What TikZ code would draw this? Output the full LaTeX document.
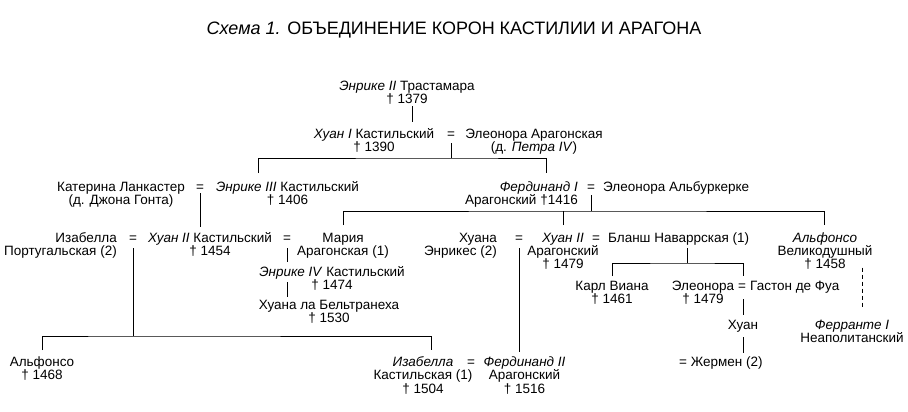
\documentclass[tikz,border=0pt]{standalone}
\usepackage{fontspec}
\setmainfont{Liberation Sans}
\usetikzlibrary{calc}
\newcommand\persfont{\fontsize{13.5}{13.3}\selectfont}
\newcommand\titlefont{\fontsize{18}{19}\selectfont}

\begin{document}
\begin{tikzpicture}[x=1pt, y=-1pt,
    person/.style={align=center, inner sep=0pt, anchor=base, font=\persfont},
    marry/.style={inner sep=0pt, anchor=base, font=\persfont},
    link/.style={line width=1pt}
]
\useasboundingbox (0,0) rectangle (908,412);

% Title
\node[anchor=base, inner sep=0pt, font=\titlefont] (title) at (454,35) {\textit{Схема 1.} ОБЪЕДИНЕНИЕ КОРОН КАСТИЛИИ И АРАГОНА};

% Trastamara, Castile (base = last line)
\node[person] (enr2) at (407,103.3) {\textit{Энрике II} Трастамара\\† 1379};
\node[person] (juan1) at (374,151.3) {\textit{Хуан I} Кастильский\\† 1390};
\node[marry] (eq1) at (451,138) {=};
\node[person] (eleo1) at (534,151.3) {Элеонора Арагонская\\(д. \textit{Петра IV})};
\node[person] (kat) at (121,204.3) {Катерина Ланкастер\\(д. Джона Гонта)};
\node[marry] (eq2) at (200,191) {=};
\node[person] (enr3) at (287.5,204.3) {\textit{Энрике III} Кастильский\\† 1406};
\node[person, align=right, anchor=base east] (isa1) at (117,255.3) {Изабелла\\Португальская (2)};
\node[marry] (eq4) at (133,242) {=};
\node[person] (juan2c) at (210,255.3) {\textit{Хуан II} Кастильский\\† 1454};
\node[marry] (eq5) at (287,242) {=};
\node[person] (maria) at (343,255.3) {Мария\\Арагонская (1)};
\node[person] (enr4) at (332,289.3) {\textit{Энрике IV} Кастильский\\† 1474};
\node[person] (juana) at (329,322.3) {Хуана ла Бельтранеха\\† 1530};
\node[person] (alf2) at (42,379.8) {Альфонсо\\† 1468};
\node[person] (isa2) at (423,393.1) {\textit{Изабелла}\\Кастильская (1)\\† 1504};

% Aragon
\node[person, align=right, anchor=base east] (fer1) at (578,204.3) {\textit{Фердинанд I}\\Арагонский †1416};
\node[marry] (eq3) at (591,191) {=};
\node[person, anchor=base west] (eleo2) at (603,191) {Элеонора Альбуркерке};
\node[person, align=right, anchor=base east] (juanaE) at (497,255.3) {Хуана\\Энрикес (2)};
\node[marry] (eq6) at (519,242) {=};
\node[person] (juan2a) at (563,268.6) {\textit{Хуан II}\\Арагонский\\† 1479};
\node[marry] (eq7) at (596,242) {=};
\node[person, anchor=base west] (blanche) at (608,242) {Бланш Наваррская (1)};
\node[person] (alf1) at (825,268.6) {\textit{Альфонсо}\\Великодушный\\† 1458};
\node[person] (karl) at (612,303.8) {Карл Виана\\† 1461};
\node[person] (eleo3) at (703,303.8) {Элеонора\\† 1479};
\node[marry] (eq8) at (742,290.5) {=};
\node[person, anchor=base west] (gaston) at (750,290.5) {Гастон де Фуа};
\node[person] (juanF) at (743,329) {Хуан};
\node[person, anchor=base west] (germ) at (679,366.5) {= Жермен (2)};
\node[person] (ferr) at (852,342.3) {\textit{Ферранте I}\\Неаполитанский};
\node[marry] (eq9) at (471,366.5) {=};
\node[person] (fer2) at (524.5,393.1) {\textit{Фердинанд II}\\Арагонский\\† 1516};

% junctions
\coordinate (kA) at (412,122);
\coordinate (busB) at (451,158);
\coordinate (dEnr3) at (258,173);
\coordinate (dFer1) at (546,173);
\coordinate (kC) at (200,227);
\coordinate (busC) at (591,211);
\coordinate (dMaria) at (343,225);
\coordinate (dJuan2a) at (563,225);
\coordinate (dAlf1) at (824,225);
\coordinate (busD) at (133,336);
\coordinate (dAlf2) at (42,350);
\coordinate (dIsa2) at (431,350);
\coordinate (busE) at (687,263);
\coordinate (dKarl) at (612,276);
\coordinate (dEleo3) at (743,276);

% connectors
\draw[link] (enr2.south -| kA) ++(0,2) -- (kA);
\draw[link] ($(eq1.south)+(0,5)$) -- (busB);
\draw[link] (dEnr3) |- (busB) -| (dFer1);
\draw[link] ($(eq2.south)+(0,2)$) -- (kC);
\draw[link] ($(eq3.south)+(0,4)$) -- (busC);
\draw[link] (dMaria) |- (busC) -| (dAlf1);
\draw[link] (dJuan2a) -- (dJuan2a |- busC);
\draw[link] ($(eq4.south)+(0,6)$) -- (busD);
\draw[link] (dAlf2) |- (busD) -| (dIsa2);
\draw[link] ($(eq5.south)+(0,6)$) -- ($(eq5.south |- enr4.north)+(0,-4)$);
\draw[link] ($(eq5.south |- enr4.south)+(0,-8)$) -- ($(eq5.south |- juana.north)+(0,-3)$);
\draw[link] ($(eq6.south)+(0,6)$) -- ($(eq6.south |- fer2.north)+(0,-5)$);
\draw[link] ($(blanche.south -| busE)+(0,3)$) -- (busE);
\draw[link] (dKarl) |- (busE) -| (dEleo3);
\draw[link] ($(eq8.south)+(1,8.5)$) -- ($(juanF.north)+(0,-5)$);
\draw[link] ($(juanF.south)+(0,5)$) -- ($(germ.north -| juanF)+(0,-4)$);
\draw[link, dash pattern=on 4pt off 3pt] ($(alf1.south -| 862,0)+(0,-2)$) -- ($(ferr.north -| 862,0)+(0,-11)$);

\end{tikzpicture}
\end{document}
